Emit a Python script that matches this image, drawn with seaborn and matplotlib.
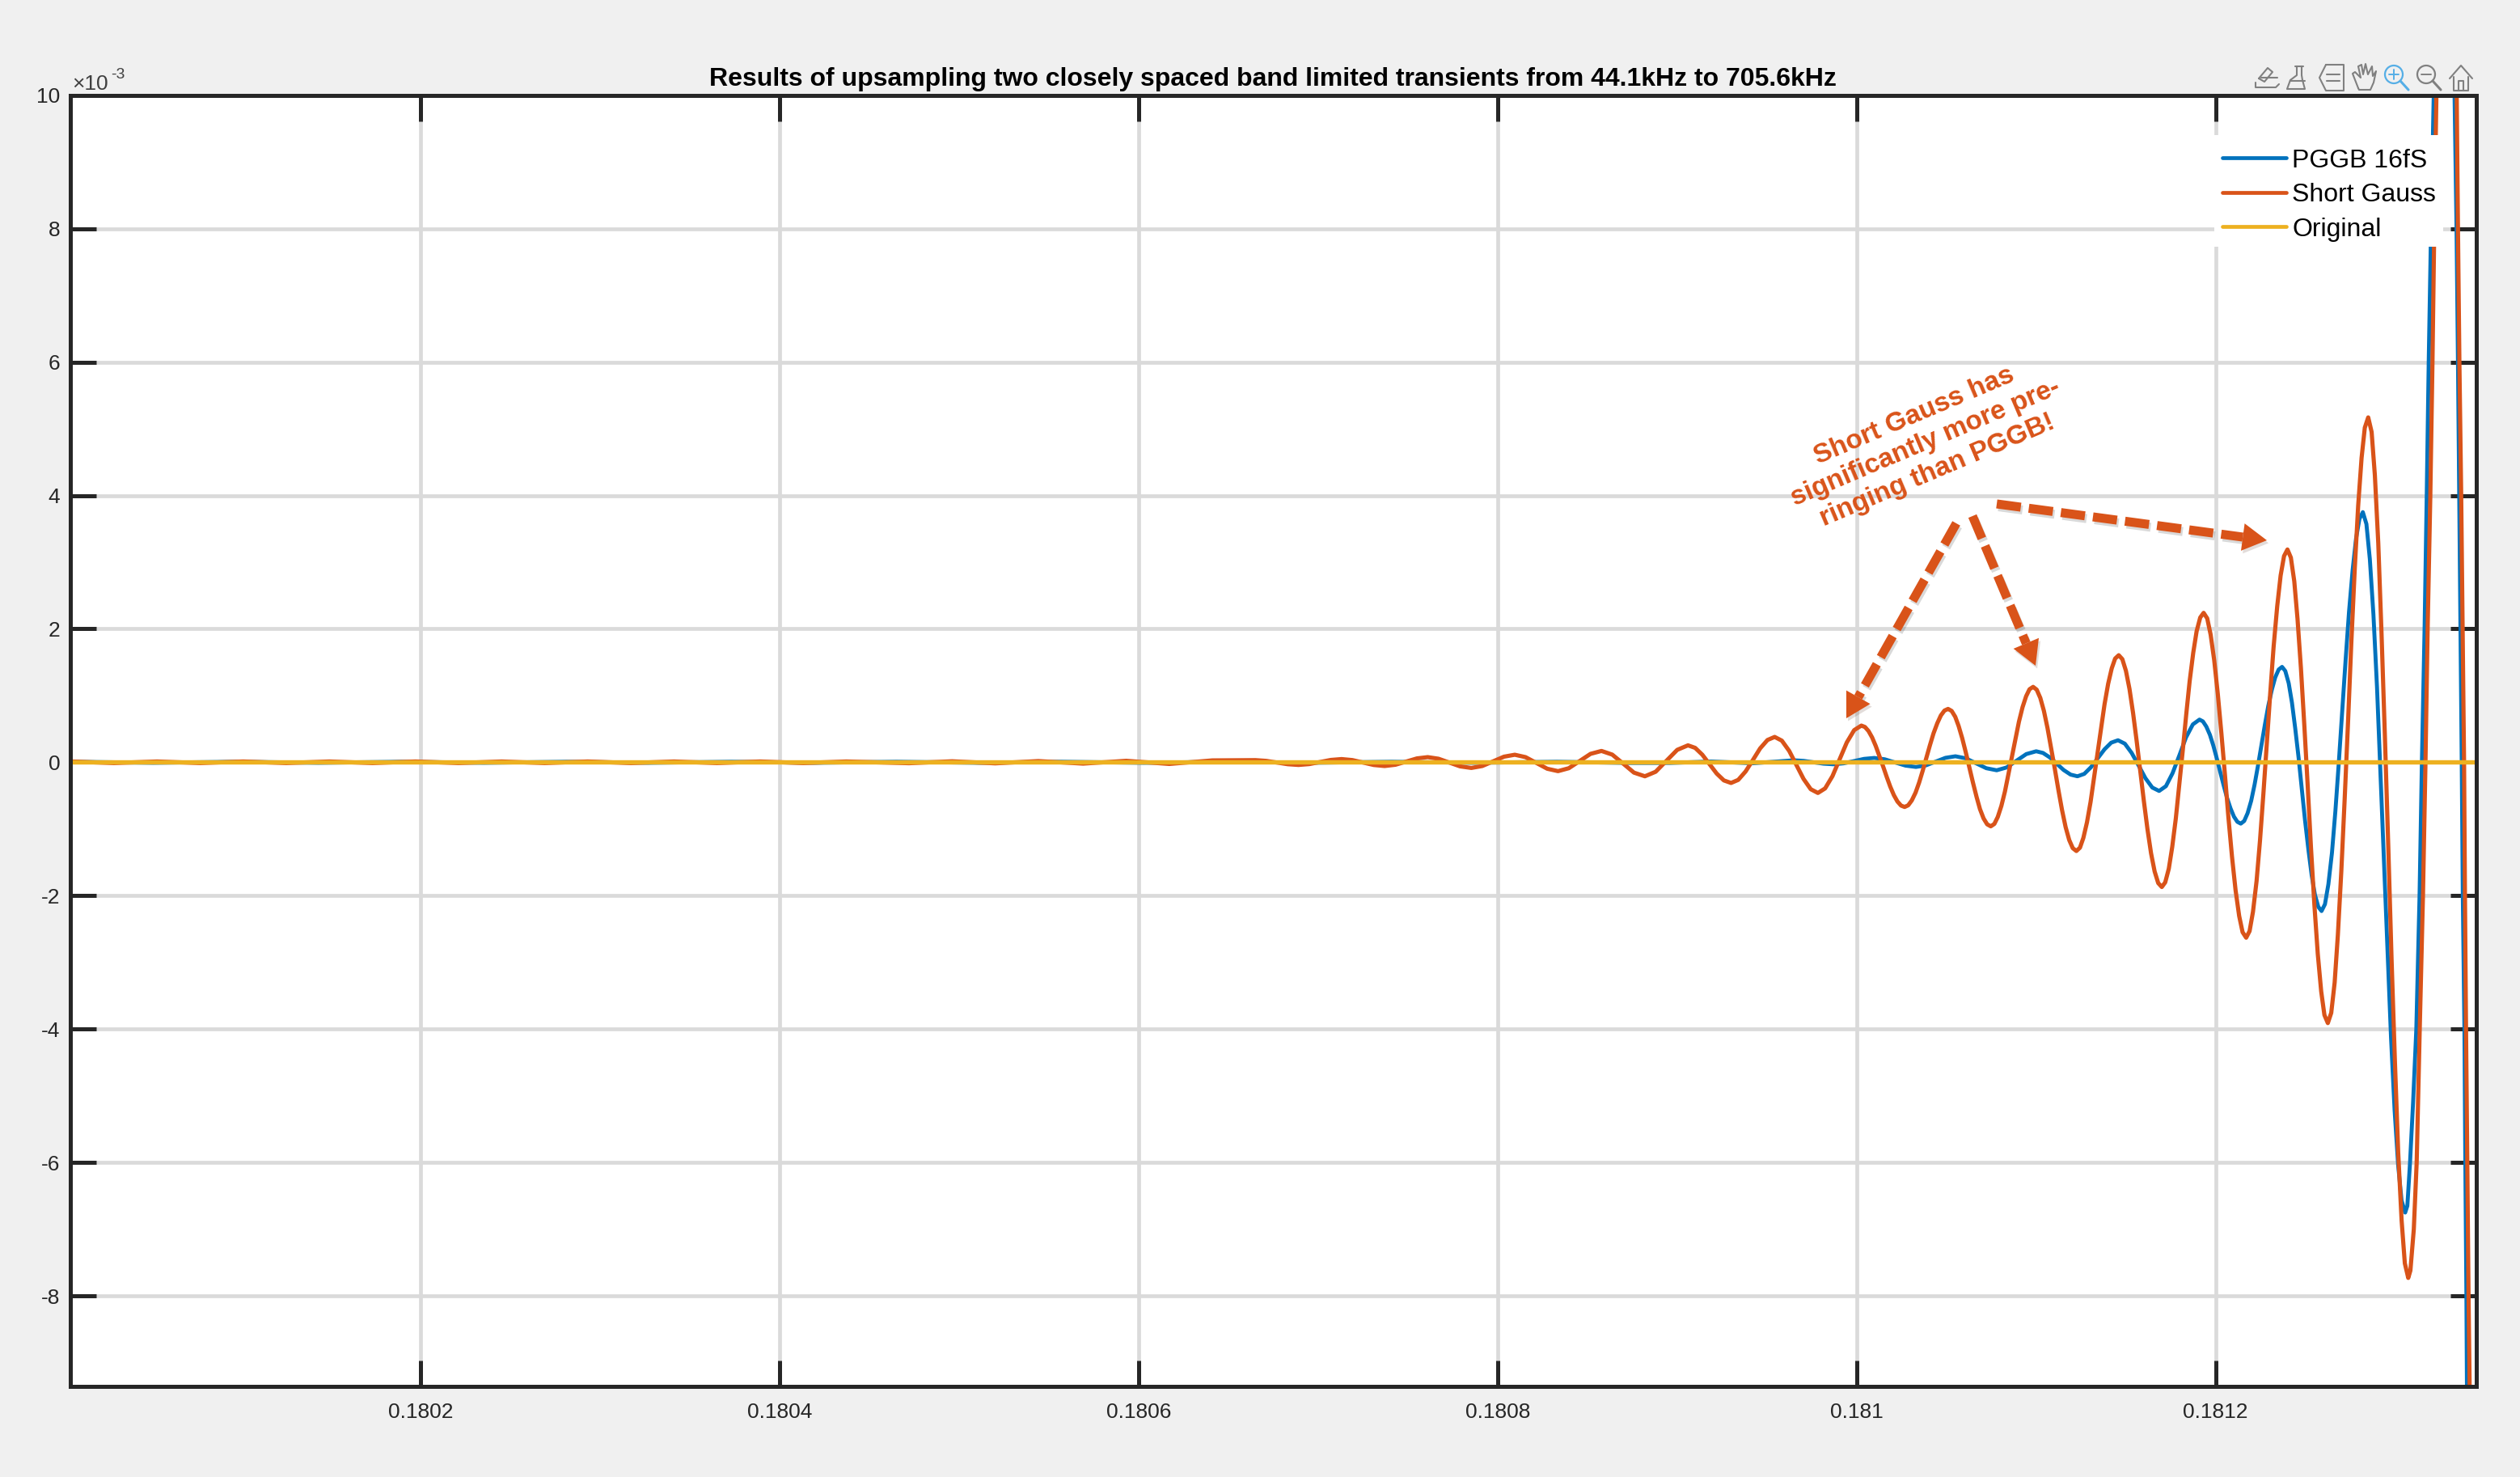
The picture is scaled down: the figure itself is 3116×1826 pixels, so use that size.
import numpy as np
import matplotlib
matplotlib.use("Agg")
import matplotlib.pyplot as plt
import matplotlib.patheffects as pe
from matplotlib.lines import Line2D
from matplotlib.patches import Polygon, Rectangle, Circle
from matplotlib.transforms import Affine2D
import seaborn as sns

# ---------- data (time offset from 0.18 s in units of 1e-4 s; amplitude in 1e-3) ----------
orange_t = [0.05,0.29,0.53,0.77,1.01,1.25,1.49,1.73,1.97,2.21,2.45,2.69,2.93,3.17,3.41,3.65,3.89,4.13,4.37,4.72,4.96,5.2,5.44,5.69,5.93,6.17,6.41,
 6.65,6.71,6.77,6.83,6.89,6.95,7.01,7.07,7.13,7.19,7.25,7.31,7.37,7.43,7.49,7.55,7.61,7.67,7.73,7.79,7.853,7.914,7.974,8.035,
 8.095,8.155,8.215,8.276,8.336,8.396,8.457,8.517,8.578,8.638,8.699,8.759,8.82,8.88,8.94,9.0,9.06,
 9.10,9.14,9.18,9.22,9.26,9.30,9.34,9.381,9.422,9.462,9.503,9.543,9.583,9.624,9.664,9.704,9.744,9.784,
 9.824,9.865,9.905,9.945,9.986,10.026,
 10.046,10.066,10.086,10.106,10.126,10.147,10.167,10.187,10.207,10.227,10.247,10.267,
 10.287,10.307,10.328,10.348,10.368,10.388,10.408,10.428,10.449,10.469,10.489,10.509,
 10.529,10.549,10.568,10.588,10.608,10.628,10.648,10.668,10.687,10.707,10.727,10.747,
 10.767,10.786,10.806,10.826,10.845,10.865,10.885,10.904,10.924,10.944,10.963,10.983,
 11.003,11.023,11.043,11.063,11.083,11.104,11.124,11.144,11.164,11.184,11.204,11.224,
 11.244,11.263,11.283,11.303,11.322,11.342,11.362,11.381,11.401,11.421,11.44,11.46,
 11.48,11.50,11.52,11.54,11.56,11.58,11.60,11.62,11.64,11.66,11.68,11.70,
 11.719,11.739,11.758,11.778,11.797,11.817,11.836,11.855,11.875,11.894,11.914,11.933,
 11.953,11.972,11.992,12.012,12.032,12.052,12.071,12.091,12.111,12.131,12.15,12.17,
 12.189,12.208,12.228,12.247,12.266,12.285,12.304,12.323,12.343,12.362,12.381,12.40,
 12.419,12.438,12.456,12.475,12.494,12.513,12.531,12.55,12.569,12.588,12.606,12.625,
 12.644,12.663,12.681,12.7,12.719,12.738,12.756,12.775,12.794,12.813,12.831,12.85,
 12.869,12.887,12.906,12.924,12.943,12.962,12.98,12.999,13.017,13.036,13.054,13.073,
 13.085,13.104,13.12,13.137,13.155,13.169,13.181,13.196,13.208,13.218,13.23,
 13.25,13.267,13.286,13.305,13.325,13.343,13.35,13.358,13.368,13.376,13.384,13.389,13.395,13.402,13.409,13.415,13.423]
orange_y = [0.012,-0.012,0.012,-0.012,0.012,-0.012,0.012,-0.012,0.012,-0.012,0.012,-0.012,0.012,-0.012,0.012,-0.012,0.012,-0.012,0.012,-0.014,0.015,-0.016,0.018,-0.02,0.022,-0.025,0.028,
 0.032,0.021,-0.004,-0.029,-0.04,-0.027,0.004,0.035,0.048,0.033,-0.004,-0.041,-0.056,-0.037,0.01,0.058,0.077,0.053,-0.004,-0.061,-0.085,-0.056,0.014,0.084,
 0.113,0.077,-0.01,-0.097,-0.133,-0.089,0.019,0.126,0.17,0.115,-0.02,-0.155,-0.21,-0.142,0.022,0.186,0.254,
 0.216,0.113,-0.028,-0.169,-0.272,-0.31,-0.264,-0.138,0.035,0.208,0.334,0.38,0.324,0.17,-0.04,-0.25,-0.404,-0.46,
 -0.392,-0.208,0.045,0.298,0.482,0.55,
 0.529,0.468,0.372,0.245,0.097,-0.06,-0.217,-0.365,-0.492,-0.588,-0.649,-0.67,
 -0.645,-0.572,-0.455,-0.303,-0.125,0.065,0.255,0.433,0.585,0.702,0.775,0.80,
 0.77,0.682,0.543,0.36,0.147,-0.08,-0.307,-0.52,-0.703,-0.842,-0.93,-0.96,
 -0.924,-0.82,-0.655,-0.438,-0.185,0.085,0.355,0.608,0.825,0.99,1.095,1.13,
 1.088,0.965,0.771,0.515,0.217,-0.10,-0.417,-0.715,-0.971,-1.165,-1.288,-1.33,
 -1.28,-1.133,-0.901,-0.596,-0.241,0.138,0.516,0.871,1.176,1.408,1.555,1.605,
 1.546,1.372,1.098,0.736,0.316,-0.133,-0.581,-1.001,-1.363,-1.637,-1.811,-1.87,
 -1.8,-1.595,-1.27,-0.843,-0.345,0.185,0.715,1.213,1.64,1.965,2.17,2.24,
 2.157,1.914,1.529,1.022,0.433,-0.195,-0.823,-1.413,-1.919,-2.304,-2.547,-2.63,
 -2.531,-2.24,-1.78,-1.175,-0.471,0.28,1.031,1.735,2.34,2.8,3.091,3.19,
 3.069,2.714,2.153,1.415,0.556,-0.36,-1.276,-2.135,-2.873,-3.434,-3.789,-3.91,
 -3.756,-3.302,-2.584,-1.64,-0.541,0.63,1.801,2.9,3.844,4.562,5.016,5.17,
 4.951,4.306,3.287,1.945,0.384,-1.28,-2.944,-4.505,-5.847,-6.866,-7.511,-7.73,
 -7.62,-7.0,-6.0,-4.0,-2.0,0.0,2.0,4.0,6.0,8.0,10.0,
 12.5,14.0,15.0,14.2,12.5,10.0,8.0,6.0,4.0,2.0,0.0,-2.0,-4.0,-6.0,-8.0,-9.35,-11.0]

blue_t = [0.05,0.51,0.97,1.43,1.89,2.35,2.81,3.27,3.73,4.19,4.65,5.11,5.57,6.03,6.49,6.95,7.41,7.87,8.33,8.73,8.96,9.19,9.42,
 9.65,9.705,9.76,9.815,9.87,9.927,9.984,10.041,10.098,10.156,10.214,10.272,10.33,10.385,10.44,10.495,10.55,10.608,10.665,10.722,10.78,10.835,10.89,10.945,
 11.0,11.038,11.077,11.115,11.153,11.192,11.23,11.268,11.305,11.343,11.381,11.418,11.456,11.494,11.532,11.571,11.609,11.647,11.685,11.723,11.76,11.798,11.835,11.873,
 11.91,11.929,11.948,11.968,11.987,12.006,12.025,12.044,12.063,12.083,12.102,12.121,
 12.14,12.159,12.178,12.198,12.217,12.236,12.255,12.274,12.293,12.313,12.332,12.351,
 12.37,12.388,12.407,12.425,12.443,12.462,12.48,12.498,12.517,12.535,12.553,12.572,
 12.59,12.609,12.628,12.648,12.667,12.686,12.705,12.724,12.743,12.763,12.782,12.801,
 12.82,12.84,12.859,12.879,12.899,12.918,12.938,12.958,12.977,12.997,13.017,13.036,13.056,
 13.068,13.083,13.10,13.118,13.136,13.149,13.164,13.176,13.187,13.20,13.215,13.235,13.255,13.273,13.293,13.31,13.331,13.342,13.35,13.357,13.364,13.371,13.377,13.386,13.391,13.397,13.40,13.406]
blue_y = [0.008,-0.008,0.008,-0.008,0.008,-0.008,0.008,-0.008,0.008,-0.008,0.008,-0.008,0.008,-0.008,0.008,-0.008,0.008,-0.008,0.008,-0.01,-0.01,0.012,-0.015,
 0.03,0.021,0.0,-0.021,-0.03,-0.016,0.018,0.051,0.065,0.045,-0.003,-0.05,-0.07,-0.047,0.01,0.067,0.09,0.059,-0.015,-0.089,-0.12,-0.078,0.023,0.123,
 0.165,0.14,0.071,-0.023,-0.116,-0.185,-0.21,-0.174,-0.075,0.06,0.195,0.294,0.33,0.279,0.14,-0.05,-0.24,-0.379,-0.43,-0.358,-0.163,0.105,0.373,0.568,
 0.64,0.613,0.535,0.412,0.25,0.061,-0.14,-0.341,-0.53,-0.692,-0.815,-0.893,
 -0.92,-0.88,-0.763,-0.577,-0.333,-0.048,0.255,0.558,0.843,1.087,1.273,1.39,
 1.43,1.368,1.185,0.896,0.515,0.072,-0.4,-0.872,-1.315,-1.696,-1.985,-2.168,
 -2.23,-2.128,-1.829,-1.357,-0.735,-0.011,0.76,1.531,2.255,2.877,3.349,3.648,
 3.75,3.572,3.047,2.217,1.125,-0.146,-1.5,-2.855,-4.125,-5.217,-6.047,-6.572,-6.75,
 -6.65,-6.0,-5.1,-4.0,-2.0,0.0,2.0,4.0,6.0,8.0,10.0,12.5,14.0,14.5,14.0,12.5,10.0,8.0,6.0,4.0,2.0,0.0,-2.0,-4.0,-6.0,-8.0,-9.36,-11.0]

original_t = [0.0, 14.0]
original_y = [0.0, 0.0]

series_names = ["PGGB 16fS", "Short Gauss", "Original"]
x_ticks = [0.1802, 0.1804, 0.1806, 0.1808, 0.181, 0.1812]
x_tick_labels = ["0.1802", "0.1804", "0.1806", "0.1808", "0.181", "0.1812"]
y_ticks = [-8, -6, -4, -2, 0, 2, 4, 6, 8, 10]
y_tick_labels = ["-8", "-6", "-4", "-2", "0", "2", "4", "6", "8", "10"]
title = "Results of upsampling two closely spaced band limited transients from 44.1kHz to 705.6kHz"
note = "Short Gauss has\nsignificantly more pre-\nringing than PGGB!"

# ---------- style ----------
BLUE, ORANGE, YELLOW = "#0072BD", "#D95319", "#EDB120"
DARK, GRID, BG = "#262626", "#DADADA", "#F0F0F0"
W, H = 3116, 1826
sns.set_style("white")
plt.rcParams["font.family"] = ["Liberation Sans", "DejaVu Sans"]

fig = plt.figure(figsize=(W / 100, H / 100), dpi=100, facecolor=BG)
L, R, T, B = 86.7, 3061.7, 117.7, 1714.3
ax = fig.add_axes([L / W, 1 - B / H, (R - L) / W, (B - T) / H], facecolor="white")
PX = Affine2D().scale(1, -1).translate(0, H)


def to_time(offsets):
    return 0.18 + np.asarray(offsets) * 1e-4


line_kw = dict(ax=ax, estimator=None, sort=False, solid_joinstyle="round")
sns.lineplot(x=to_time(blue_t), y=blue_y, color=BLUE, lw=3.5, label=series_names[0], **line_kw)
sns.lineplot(x=to_time(orange_t), y=orange_y, color=ORANGE, lw=3.7, label=series_names[1], **line_kw)
sns.lineplot(x=to_time(original_t), y=original_y, color=YELLOW, lw=3.9, label=series_names[2], **line_kw)

ax.set_xlim(0.1800046, 0.1813451)
ax.set_ylim(-9.36, 10)
ax.set_xticks(x_ticks)
ax.set_xticklabels(x_tick_labels)
ax.set_yticks(y_ticks)
ax.set_yticklabels(y_tick_labels)
ax.set_axisbelow(True)
ax.grid(True, color=GRID, lw=3.4)
ax.tick_params(axis="both", direction="in", length=23, width=3.6, color=DARK, labelcolor=DARK,
               labelsize=19, top=True, right=True, bottom=True, left=True)
ax.tick_params(axis="x", pad=14)
ax.tick_params(axis="y", pad=9)
ax.set_xlabel("")
ax.set_ylabel("")
for s in ax.spines.values():
    s.set_color(DARK)
    s.set_linewidth(3.6)
    s.set_zorder(6)

# white legend box hiding the curves and grid
ax.add_patch(Rectangle((2738, 167), 283, 138, transform=PX, facecolor="white", edgecolor="none",
                       zorder=4.5, clip_on=False))
leg = ax.legend(loc="upper left", bbox_to_anchor=(2738 / W, 1 - 174 / H), bbox_transform=fig.transFigure,
                frameon=False, fontsize=23, handlelength=2.5, handletextpad=0.22,
                labelspacing=0.39, borderpad=0, borderaxespad=0.3)
for t in leg.get_texts():
    t.set_color("black")
for h in leg.get_lines():
    h.set_linewidth(3.4)
leg.set_zorder(5)

fig.text(1574, 98, title, transform=PX, ha="center", va="center", fontsize=23, fontweight="bold",
         color="black")
fig.text(89, 104, "\u00d710", transform=PX, ha="left", va="center", fontsize=19, color="#404040")
fig.text(137, 92, "-3", transform=PX, ha="left", va="center", fontsize=14, color="#404040")

fig.text(2381, 548, note, transform=PX, ha="center", va="center", multialignment="center",
         rotation=23, rotation_mode="anchor", fontsize=24, fontweight="bold", color=ORANGE,
         linespacing=1.25)


def arrow(p0, p1):
    p0, p1 = np.array(p0, float), np.array(p1, float)
    d = (p1 - p0) / np.hypot(*(p1 - p0))
    n = np.array([-d[1], d[0]])
    base = p1 - d * 30
    shadow = [pe.SimpleLineShadow(offset=(1.5, -2.5), alpha=0.15, shadow_color="k"), pe.Normal()]
    fig.add_artist(Line2D([p0[0], base[0]], [p0[1], base[1]], transform=PX, color=ORANGE, lw=8,
                          dashes=(2.7, 0.9), dash_capstyle="butt", path_effects=shadow, zorder=7))
    fig.add_artist(Polygon([p1, base + n * 17, base - n * 17], closed=True, transform=PX,
                           facecolor=ORANGE, edgecolor="none", zorder=7,
                           path_effects=[pe.SimplePatchShadow(offset=(1.5, -2.5), alpha=0.15), pe.Normal()]))


arrow((2419, 647), (2283, 888))
arrow((2439, 638), (2517, 823))
arrow((2469, 623), (2803, 668))


# toolbar icons (simple outlines)
def stroke(xs, ys, color="#808080", lw=1.5):
    fig.add_artist(Line2D(xs, ys, transform=PX, color=color, lw=lw, zorder=8))


def glass(cx, cy, color, plus):
    fig.add_artist(Circle((cx - 2, cy - 4), 11, transform=PX, fill=False, edgecolor=color, lw=1.6, zorder=8))
    stroke([cx + 6, cx + 16], [cy + 4, cy + 15], color, 2.2)
    stroke([cx - 8, cx + 4], [cy - 4, cy - 4], color, 1.4)
    if plus:
        stroke([cx - 2, cx - 2], [cy - 10, cy + 2], color, 1.4)


# edit/export
stroke([2789, 2789, 2814, 2818], [102, 108, 108, 104])
stroke([2793, 2804, 2810, 2800, 2793], [97, 84, 89, 101, 97])
stroke([2796, 2816], [96, 96])
# brush
stroke([2840, 2840, 2832, 2828, 2850, 2847, 2846, 2846], [82, 93, 99, 110, 110, 99, 93, 82])
stroke([2838, 2848], [82, 82])
stroke([2832, 2850], [100, 100])
# legend box
stroke([2876, 2898, 2898, 2876, 2868, 2876], [80, 80, 112, 112, 96, 80])
stroke([2877, 2893], [92, 92])
stroke([2877, 2893], [100, 100])
# hand
stroke([2916, 2909, 2912, 2919, 2916, 2920, 2922, 2925, 2928, 2933, 2934, 2938, 2935, 2931, 2917, 2916],
       [109, 91, 89, 96, 82, 80, 92, 79, 92, 82, 94, 88, 102, 111, 111, 109])
# zoom in / zoom out
glass(2962, 96, "#55AEE6", True)
glass(3002, 96, "#808080", False)
# home
stroke([3029, 3043, 3057], [97, 81, 97])
stroke([3034, 3034, 3052, 3052], [95, 112, 112, 95])
stroke([3040, 3040, 3046, 3046], [112, 100, 100, 112])

fig.savefig("out.png", dpi=100, facecolor=BG)
